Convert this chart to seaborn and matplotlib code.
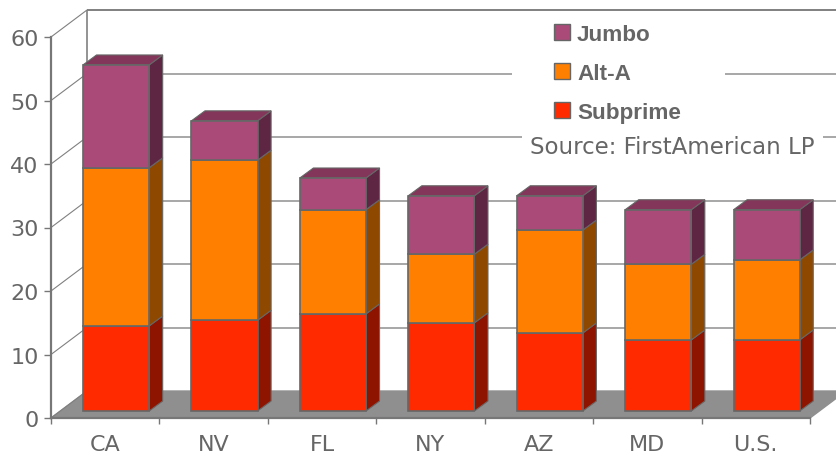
### 3D LOOK STACKED BARS - MORTGAGE TYPES BY STATE ###

import numpy as np
import matplotlib
matplotlib.use("Agg")
import matplotlib.pyplot as plt
from matplotlib.patches import Patch, Rectangle
import seaborn as sns

# Data
states = ["CA", "NV", "FL", "NY", "AZ", "MD", "U.S."]
subprime = [13.4, 14.3, 15.3, 13.9, 12.3, 11.2, 11.2]
alt_a = [24.9, 25.2, 16.4, 10.8, 16.2, 11.9, 12.6]
jumbo = [16.2, 6.2, 5.0, 9.2, 5.4, 8.6, 7.9]

# Colours: front, side, top
sub_cols = ("#ff2a00", "#8f1400", "#8f1400")
alt_cols = ("#ff7f00", "#8f4800", "#8f4800")
jumbo_cols = ("#a94a78", "#5f2644", "#83365a")
edge = "#666666"
text_col = "#666666"

sns.set_style("white")
plt.rcParams["font.family"] = ["DejaVu Sans"]

fig = plt.figure(figsize=(8.37, 4.56), dpi=100)
ax = fig.add_axes([51 / 837, 1 - 419 / 456, (810 - 51) / 837, (419 - 38) / 456])

# Depth of the chart box and of the bars, in data units
box_dx, box_dy = 0.332, 4.25
bar_dx, bar_dy = 0.125, 1.57
shift_x, shift_y = 0.1, 1.1

# Stack the three series with seaborn
bottom = np.zeros(len(states))
layers = [(subprime, sub_cols), (alt_a, alt_cols), (jumbo, jumbo_cols)]
for vals, cols in layers:
    sns.barplot(x=states, y=vals, bottom=bottom, color=cols[0], saturation=1, width=0.61,
                edgecolor=edge, linewidth=1.2, errorbar=None, zorder=5, ax=ax)
    bottom = bottom + np.array(vals)

ax.set_xlim(-0.5, 6.5)
ax.set_ylim(0, 60)

# Move bars back onto the floor and add the side and top faces
n = len(states)
for k, bar in enumerate(ax.patches):
    layer = k // n
    bar.set_x(bar.get_x() + shift_x)
    bar.set_y(bar.get_y() + shift_y)
    bar.set_clip_on(False)
    x0, x1 = bar.get_x(), bar.get_x() + bar.get_width()
    y0, y1 = bar.get_y(), bar.get_y() + bar.get_height()
    cols = layers[layer][1]
    ax.fill([x1, x1 + bar_dx, x1 + bar_dx, x1], [y0, y0 + bar_dy, y1 + bar_dy, y1],
            facecolor=cols[1], edgecolor=edge, linewidth=0.8, zorder=4, clip_on=False)
    if layer == len(layers) - 1:
        ax.fill([x0, x1, x1 + bar_dx, x0 + bar_dx], [y1, y1, y1 + bar_dy, y1 + bar_dy],
                facecolor=cols[2], edgecolor=edge, linewidth=0.8, zorder=4, clip_on=False)

# Floor
ax.fill([-0.5, 6.5, 6.5 + box_dx, -0.5 + box_dx], [0, 0, box_dy, box_dy],
        facecolor="#8f8f8f", edgecolor="#8f8f8f", zorder=2, clip_on=False)

# Back wall grid and the lines running from the front axis to it
ticks = np.arange(0, 70, 10)
ax.hlines(ticks[1:] + box_dy, -0.5 + box_dx, 6.5 + box_dx, color="#a0a0a0", linewidth=1.3,
          zorder=1, clip_on=False)
ax.hlines(60 + box_dy, -0.5 + box_dx, 6.5 + box_dx, color="#808080", linewidth=1.3,
          zorder=1, clip_on=False)
ax.vlines(-0.5 + box_dx, box_dy, 60 + box_dy, color="#808080", linewidth=1.2, zorder=1, clip_on=False)
for t in ticks:
    ax.plot([-0.5, -0.5 + box_dx], [t, t + box_dy], color="#808080", linewidth=0.8,
            zorder=3, clip_on=False)

# Axes
ax.patch.set_visible(False)
for side in ["top", "right"]:
    ax.spines[side].set_visible(False)
for side in ["left", "bottom"]:
    ax.spines[side].set_color("#777777")
    ax.spines[side].set_linewidth(1.6)
    ax.spines[side].set_zorder(6)
ax.set_yticks(ticks)
ax.set_xticks(np.arange(-0.5, 7), minor=True)
ax.tick_params(axis="y", left=True, length=5, width=1, color="#777777", labelsize=16,
               labelcolor=text_col, pad=4)
ax.tick_params(axis="x", which="major", bottom=False, labelsize=16, labelcolor=text_col, pad=8)
ax.tick_params(axis="x", which="minor", bottom=True, length=4, width=1, color="#777777")
ax.set_xlabel("")
ax.set_ylabel("")

# White block behind the legend
fig.add_artist(Rectangle((512 / 837, 1 - 125 / 456), 213 / 837, 105 / 456, transform=fig.transFigure,
                         facecolor="white", edgecolor="none"))

handles = [Patch(facecolor=jumbo_cols[0], edgecolor=edge, label="Jumbo"),
           Patch(facecolor=alt_cols[0], edgecolor=edge, label="Alt-A"),
           Patch(facecolor=sub_cols[0], edgecolor=edge, label="Subprime")]
fig.legend(handles=handles, loc="upper left", bbox_to_anchor=(534 / 837, 1 - 5 / 456), frameon=False,
           prop={"family": "Liberation Sans", "weight": "bold", "size": 16.2}, labelcolor=text_col,
           handlelength=0.71, handleheight=0.71, handletextpad=0.3, labelspacing=0.79)

fig.text(530 / 837, 1 - 147 / 456, "Source: FirstAmerican LP", color=text_col, fontsize=16.5, va="center",
         bbox=dict(facecolor="white", edgecolor="none", pad=6))

fig.savefig("out.png", dpi=100)
